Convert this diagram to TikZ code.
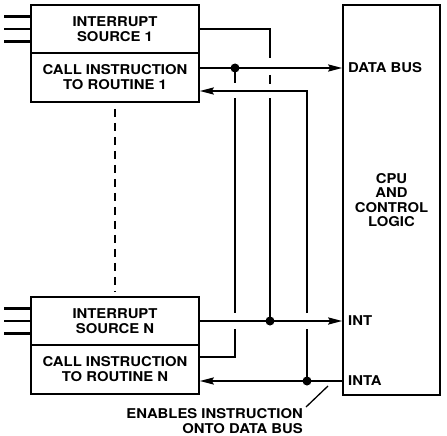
\documentclass[tikz,border=0pt]{standalone}
\usepackage{fontspec}
\setmainfont{TeX Gyre Heros}[FakeStretch=1.1]
\usetikzlibrary{arrows.meta}
\newcommand\lblfont{\bfseries\fontsize{13.5}{15}\selectfont}
\begin{document}
\begin{tikzpicture}[x=1pt,y=-1pt,
  box/.style={draw, line width=1.5pt, minimum width=168pt, align=center, inner sep=0pt, font=\lblfont},
  wire/.style={line width=2.3pt},
  arr/.style={wire, -{Stealth[length=14pt,width=7pt,inset=2pt]}},
  jdot/.style={circle, fill, inner sep=0pt, minimum size=9pt},
  stub/.style={line width=2.5pt},
  lbl/.style={font=\lblfont, inner sep=0pt}]
\useasboundingbox (0,0) rectangle (447,436);
% blocks
\node[box, minimum height=48pt] (s1) at (115,29) {INTERRUPT\\SOURCE 1};
\node[box, minimum height=49pt] (c1) at (115,77.5) {CALL INSTRUCTION\\TO ROUTINE 1};
\node[box, minimum height=48pt] (sN) at (115,321) {INTERRUPT\\SOURCE N};
\node[box, minimum height=49pt] (cN) at (115,369.5) {CALL INSTRUCTION\\TO ROUTINE N};
\node[box, minimum width=97pt, minimum height=390pt, font=\bfseries\fontsize{13.5}{14.5}\selectfont] (cpu) at (391.5,200) {CPU\\AND\\CONTROL\\LOGIC};
% labels inside CPU
\node[lbl, anchor=west] (ldb) at (348,68) {DATA BUS};
\node[lbl, anchor=west] (lint) at (348,321) {INT};
\node[lbl, anchor=west] (linta) at (348,381) {INTA};
% input stubs
\foreach \d in {-12.5,0,12.5} {
  \draw[stub] (s1.west) ++(0,\d) -- ++(-26,0);
  \draw[stub] (sN.west) ++(0,\d) -- ++(-26,0);
}
% dashed continuation
\draw[line width=1.5pt, dash pattern=on 8pt off 6pt] ([yshift=-6pt]c1.south) -- ([yshift=5pt]sN.north);
% coordinates
\coordinate (jd) at (235,68);
\coordinate (ji) at (270,321);
\coordinate (ja) at (307,381);
\coordinate (ta) at (270,29);
\coordinate (ra) at (307,91);
\coordinate (rb) at (235,357);
% data bus
\draw[arr] (c1.east |- jd) -- (cpu.west |- jd);
% INT
\draw[arr] (sN.east) -- (cpu.west |- sN.east);
% INTA
\draw[arr] (cpu.west |- ja) -- (cN.east |- ja);
\draw[wire] (ja) -- (307,329);
\draw[arr] (307,313) -- (ra) -- (c1.east |- ra);
% line A (source 1 -> INT)
\draw[wire] (s1.east) -- (ta) -- (270,58);
\draw[wire] (270,75) -- (270,84);
\draw[wire] (270,98) -- (ji);
% line B (data bus -> call N)
\draw[wire] (jd) -- (235,83);
\draw[wire] (235,98) -- (235,313);
\draw[wire] (235,329) -- (rb) -- (cN.east |- rb);
% junction dots
\node[jdot] (d1) at (jd) {};
\node[jdot] (d2) at (ji) {};
\node[jdot] (d3) at (ja) {};
% note
\node[lbl, align=right, anchor=north east] (note) at (303,408) {ENABLES INSTRUCTION\\ONTO DATA BUS};
\coordinate (lt) at (328,386);
\draw[line width=1.3pt] ([xshift=3pt,yshift=1pt]note.north east) -- (lt);
\end{tikzpicture}
\end{document}
